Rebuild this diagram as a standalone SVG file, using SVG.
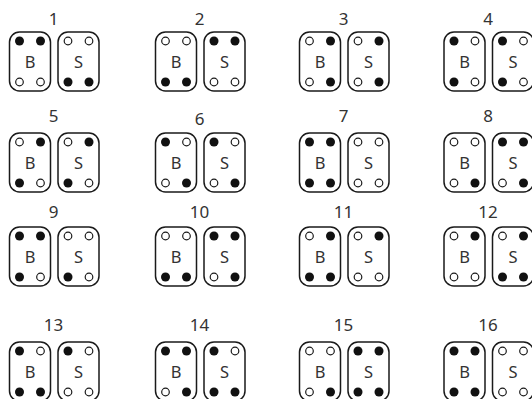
<svg xmlns="http://www.w3.org/2000/svg" width="532" height="399" viewBox="0 0 532 399">
<style>
.bx{fill:none;stroke:#1a1a1a;stroke-width:1.5}
.f{fill:#111}
.h{fill:#fff;stroke:#1a1a1a;stroke-width:1.2}
.lt{font-family:"Noto Sans","Open Sans",sans-serif;font-size:16.5px;fill:#333;text-anchor:middle}
.num{font-family:"Noto Sans","Open Sans",sans-serif;font-size:17px;fill:#333;text-anchor:middle}
</style>
<defs>
<g id="pair">
<rect class="bx" x="0" y="0" width="41" height="59" rx="10"/>
<rect class="bx" x="48.5" y="0" width="41" height="59" rx="10"/>
<text class="lt" x="20.5" y="35.5">B</text>
<text class="lt" x="69" y="35.5">S</text>
</g>
</defs>
<g id="connectors"/>
<!-- Row 1 -->
<g id="n1" transform="translate(9.5,32)">
<text class="num" x="44" y="-7">1</text>
<use href="#pair"/>
<circle class="f" cx="10" cy="9" r="4.5"/><circle class="f" cx="31" cy="9" r="4.5"/><circle class="h" cx="10" cy="50" r="3.8"/><circle class="h" cx="31" cy="50" r="3.8"/>
<circle class="h" cx="58.5" cy="9" r="3.8"/><circle class="h" cx="79.5" cy="9" r="3.8"/><circle class="f" cx="58.5" cy="50" r="4.5"/><circle class="f" cx="79.5" cy="50" r="4.5"/>
</g>
<g id="n2" transform="translate(155.5,32)">
<text class="num" x="44" y="-7">2</text>
<use href="#pair"/>
<circle class="h" cx="10" cy="9" r="3.8"/><circle class="h" cx="31" cy="9" r="3.8"/><circle class="f" cx="10" cy="50" r="4.5"/><circle class="f" cx="31" cy="50" r="4.5"/>
<circle class="f" cx="58.5" cy="9" r="4.5"/><circle class="f" cx="79.5" cy="9" r="4.5"/><circle class="h" cx="58.5" cy="50" r="3.8"/><circle class="h" cx="79.5" cy="50" r="3.8"/>
</g>
<g id="n3" transform="translate(299.5,32)">
<text class="num" x="44" y="-7">3</text>
<use href="#pair"/>
<circle class="h" cx="10" cy="9" r="3.8"/><circle class="f" cx="31" cy="9" r="4.5"/><circle class="h" cx="10" cy="50" r="3.8"/><circle class="f" cx="31" cy="50" r="4.5"/>
<circle class="h" cx="58.5" cy="9" r="3.8"/><circle class="f" cx="79.5" cy="9" r="4.5"/><circle class="h" cx="58.5" cy="50" r="3.8"/><circle class="f" cx="79.5" cy="50" r="4.5"/>
</g>
<g id="n4" transform="translate(444,32)">
<text class="num" x="44" y="-7">4</text>
<use href="#pair"/>
<circle class="f" cx="10" cy="9" r="4.5"/><circle class="h" cx="31" cy="9" r="3.8"/><circle class="f" cx="10" cy="50" r="4.5"/><circle class="h" cx="31" cy="50" r="3.8"/>
<circle class="f" cx="58.5" cy="9" r="4.5"/><circle class="h" cx="79.5" cy="9" r="3.8"/><circle class="f" cx="58.5" cy="50" r="4.5"/><circle class="h" cx="79.5" cy="50" r="3.8"/>
</g>
<!-- Row 2 -->
<g id="n5" transform="translate(9.5,133)">
<text class="num" x="44" y="-11">5</text>
<use href="#pair"/>
<circle class="h" cx="10" cy="9" r="3.8"/><circle class="f" cx="31" cy="9" r="4.5"/><circle class="f" cx="10" cy="50" r="4.5"/><circle class="h" cx="31" cy="50" r="3.8"/>
<circle class="h" cx="58.5" cy="9" r="3.8"/><circle class="f" cx="79.5" cy="9" r="4.5"/><circle class="f" cx="58.5" cy="50" r="4.5"/><circle class="h" cx="79.5" cy="50" r="3.8"/>
</g>
<g id="n6" transform="translate(155.5,133)">
<text class="num" x="44" y="-8.5">6</text>
<use href="#pair"/>
<circle class="f" cx="10" cy="9" r="4.5"/><circle class="h" cx="31" cy="9" r="3.8"/><circle class="h" cx="10" cy="50" r="3.8"/><circle class="f" cx="31" cy="50" r="4.5"/>
<circle class="f" cx="58.5" cy="9" r="4.5"/><circle class="h" cx="79.5" cy="9" r="3.8"/><circle class="h" cx="58.5" cy="50" r="3.8"/><circle class="f" cx="79.5" cy="50" r="4.5"/>
</g>
<g id="n7" transform="translate(299.5,133)">
<text class="num" x="44" y="-11">7</text>
<use href="#pair"/>
<circle class="f" cx="10" cy="9" r="4.5"/><circle class="f" cx="31" cy="9" r="4.5"/><circle class="f" cx="10" cy="50" r="4.5"/><circle class="f" cx="31" cy="50" r="4.5"/>
<circle class="h" cx="58.5" cy="9" r="3.8"/><circle class="h" cx="79.5" cy="9" r="3.8"/><circle class="h" cx="58.5" cy="50" r="3.8"/><circle class="h" cx="79.5" cy="50" r="3.8"/>
</g>
<g id="n8" transform="translate(444,133)">
<text class="num" x="44" y="-11">8</text>
<use href="#pair"/>
<circle class="h" cx="10" cy="9" r="3.8"/><circle class="h" cx="31" cy="9" r="3.8"/><circle class="h" cx="10" cy="50" r="3.8"/><circle class="f" cx="31" cy="50" r="4.5"/>
<circle class="f" cx="58.5" cy="9" r="4.5"/><circle class="f" cx="79.5" cy="9" r="4.5"/><circle class="h" cx="58.5" cy="50" r="3.8"/><circle class="f" cx="79.5" cy="50" r="4.5"/>
</g>
<!-- Row 3 -->
<g id="n9" transform="translate(9.5,227)">
<text class="num" x="44" y="-9">9</text>
<use href="#pair"/>
<circle class="f" cx="10" cy="9" r="4.5"/><circle class="f" cx="31" cy="9" r="4.5"/><circle class="f" cx="10" cy="50" r="4.5"/><circle class="h" cx="31" cy="50" r="3.8"/>
<circle class="h" cx="58.5" cy="9" r="3.8"/><circle class="h" cx="79.5" cy="9" r="3.8"/><circle class="f" cx="58.5" cy="50" r="4.5"/><circle class="h" cx="79.5" cy="50" r="3.8"/>
</g>
<g id="n10" transform="translate(155.5,227)">
<text class="num" x="44" y="-9">10</text>
<use href="#pair"/>
<circle class="h" cx="10" cy="9" r="3.8"/><circle class="h" cx="31" cy="9" r="3.8"/><circle class="f" cx="10" cy="50" r="4.5"/><circle class="f" cx="31" cy="50" r="4.5"/>
<circle class="f" cx="58.5" cy="9" r="4.5"/><circle class="f" cx="79.5" cy="9" r="4.5"/><circle class="h" cx="58.5" cy="50" r="3.8"/><circle class="f" cx="79.5" cy="50" r="4.5"/>
</g>
<g id="n11" transform="translate(299.5,227)">
<text class="num" x="44" y="-9">11</text>
<use href="#pair"/>
<circle class="h" cx="10" cy="9" r="3.8"/><circle class="f" cx="31" cy="9" r="4.5"/><circle class="f" cx="10" cy="50" r="4.5"/><circle class="f" cx="31" cy="50" r="4.5"/>
<circle class="h" cx="58.5" cy="9" r="3.8"/><circle class="f" cx="79.5" cy="9" r="4.5"/><circle class="h" cx="58.5" cy="50" r="3.8"/><circle class="h" cx="79.5" cy="50" r="3.8"/>
</g>
<g id="n12" transform="translate(444,227)">
<text class="num" x="44" y="-9">12</text>
<use href="#pair"/>
<circle class="h" cx="10" cy="9" r="3.8"/><circle class="f" cx="31" cy="9" r="4.5"/><circle class="h" cx="10" cy="50" r="3.8"/><circle class="h" cx="31" cy="50" r="3.8"/>
<circle class="h" cx="58.5" cy="9" r="3.8"/><circle class="f" cx="79.5" cy="9" r="4.5"/><circle class="f" cx="58.5" cy="50" r="4.5"/><circle class="f" cx="79.5" cy="50" r="4.5"/>
</g>
<!-- Row 4 -->
<g id="n13" transform="translate(9.5,342)">
<text class="num" x="44" y="-11">13</text>
<use href="#pair"/>
<circle class="f" cx="10" cy="9" r="4.5"/><circle class="h" cx="31" cy="9" r="3.8"/><circle class="f" cx="10" cy="50" r="4.5"/><circle class="f" cx="31" cy="50" r="4.5"/>
<circle class="f" cx="58.5" cy="9" r="4.5"/><circle class="h" cx="79.5" cy="9" r="3.8"/><circle class="h" cx="58.5" cy="50" r="3.8"/><circle class="h" cx="79.5" cy="50" r="3.8"/>
</g>
<g id="n14" transform="translate(155.5,342)">
<text class="num" x="44" y="-11">14</text>
<use href="#pair"/>
<circle class="f" cx="10" cy="9" r="4.5"/><circle class="f" cx="31" cy="9" r="4.5"/><circle class="h" cx="10" cy="50" r="3.8"/><circle class="f" cx="31" cy="50" r="4.5"/>
<circle class="f" cx="58.5" cy="9" r="4.5"/><circle class="h" cx="79.5" cy="9" r="3.8"/><circle class="f" cx="58.5" cy="50" r="4.5"/><circle class="f" cx="79.5" cy="50" r="4.5"/>
</g>
<g id="n15" transform="translate(299.5,342)">
<text class="num" x="44" y="-11">15</text>
<use href="#pair"/>
<circle class="h" cx="10" cy="9" r="3.8"/><circle class="h" cx="31" cy="9" r="3.8"/><circle class="h" cx="10" cy="50" r="3.8"/><circle class="f" cx="31" cy="50" r="4.5"/>
<circle class="f" cx="58.5" cy="9" r="4.5"/><circle class="f" cx="79.5" cy="9" r="4.5"/><circle class="f" cx="58.5" cy="50" r="4.5"/><circle class="f" cx="79.5" cy="50" r="4.5"/>
</g>
<g id="n16" transform="translate(444,342)">
<text class="num" x="44" y="-11">16</text>
<use href="#pair"/>
<circle class="f" cx="10" cy="9" r="4.5"/><circle class="f" cx="31" cy="9" r="4.5"/><circle class="f" cx="10" cy="50" r="4.5"/><circle class="f" cx="31" cy="50" r="4.5"/>
<circle class="h" cx="58.5" cy="9" r="3.8"/><circle class="h" cx="79.5" cy="9" r="3.8"/><circle class="h" cx="58.5" cy="50" r="3.8"/><circle class="h" cx="79.5" cy="50" r="3.8"/>
</g>
</svg>
